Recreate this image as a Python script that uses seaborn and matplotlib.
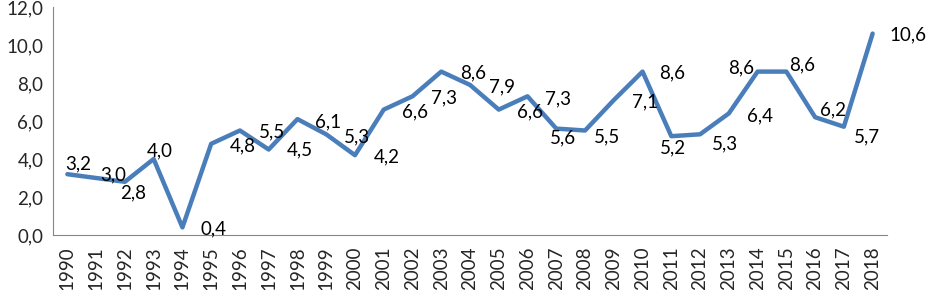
import numpy as np
import pandas as pd
import matplotlib
matplotlib.use('Agg')
import matplotlib.pyplot as plt
import seaborn as sns

# Datos del gráfico
years = [str(y) for y in range(1990, 2019)]
values = [3.2, 3.0, 2.8, 4.0, 0.4, 4.8, 5.5, 4.5, 6.1, 5.3, 4.2, 6.6, 7.3, 8.6, 7.9,
          6.6, 7.3, 5.6, 5.5, 7.1, 8.6, 5.2, 5.3, 6.4, 8.6, 8.6, 6.2, 5.7, 10.6]
y_ticks = [0, 2, 4, 6, 8, 10, 12]

# Desplazamiento de las etiquetas (en píxeles), como en el original
label_dx = [11, 17, 8, 6, 31, 32, 32, 31, 31, 31, 32, 31, 32, 32, 32,
            31, 30, 7, 22, 31, 30, 2, 25, 31, -16, 16, 18, 23, 35]
label_dy = [10, 3, -11, 8, -1, -2, -1, 0, -3, -3, -2, -2, -2, -1, -2,
            -2, -3, -9, -6, -2, -1, -12, -10, -2, 4, 7, 7, -10, -1]

df = pd.DataFrame({'Año': years, 'Valor': values})

sns.set_style('white')
plt.rcParams['font.family'] = ['Lato', 'DejaVu Sans']
FS = 13.5

fig = plt.figure(figsize=(9.26, 2.9), dpi=100)
ax = fig.add_axes([53 / 926, 1 - 235 / 290, (887 - 53) / 926, (235 - 7) / 290])

sns.lineplot(data=df, x='Año', y='Valor', ax=ax, color='#4A7EBB',
             linewidth=3.2, sort=False)

for i, (v, dx, dy) in enumerate(zip(values, label_dx, label_dy)):
    ax.annotate(f"{v:.1f}".replace('.', ','), (i, v), xytext=(dx, dy),
                textcoords='offset pixels', ha='center', va='center',
                fontsize=FS, color='black')

ax.set_xlim(-0.5, len(years) - 0.5)
ax.set_ylim(0, 12)
ax.set_yticks(y_ticks)
ax.set_yticklabels([f"{t:.1f}".replace('.', ',') for t in y_ticks], fontsize=FS)
ax.set_xticks(range(len(years)))
ax.set_xticklabels(years, rotation=90, fontsize=FS)
ax.set_xticks(np.arange(-0.5, len(years), 1), minor=True)
ax.tick_params(axis='x', which='major', length=0, pad=8)
ax.tick_params(axis='x', which='minor', length=4, color='#868686', width=0.8, direction='out')
ax.tick_params(axis='y', length=4, color='#868686', width=0.8, direction='out', pad=3)
ax.set_xlabel('')
ax.set_ylabel('')

for side in ['top', 'right']:
    ax.spines[side].set_visible(False)
for side in ['left', 'bottom']:
    ax.spines[side].set_color('#868686')
    ax.spines[side].set_linewidth(0.8)

fig.savefig('out.png', dpi=100)
